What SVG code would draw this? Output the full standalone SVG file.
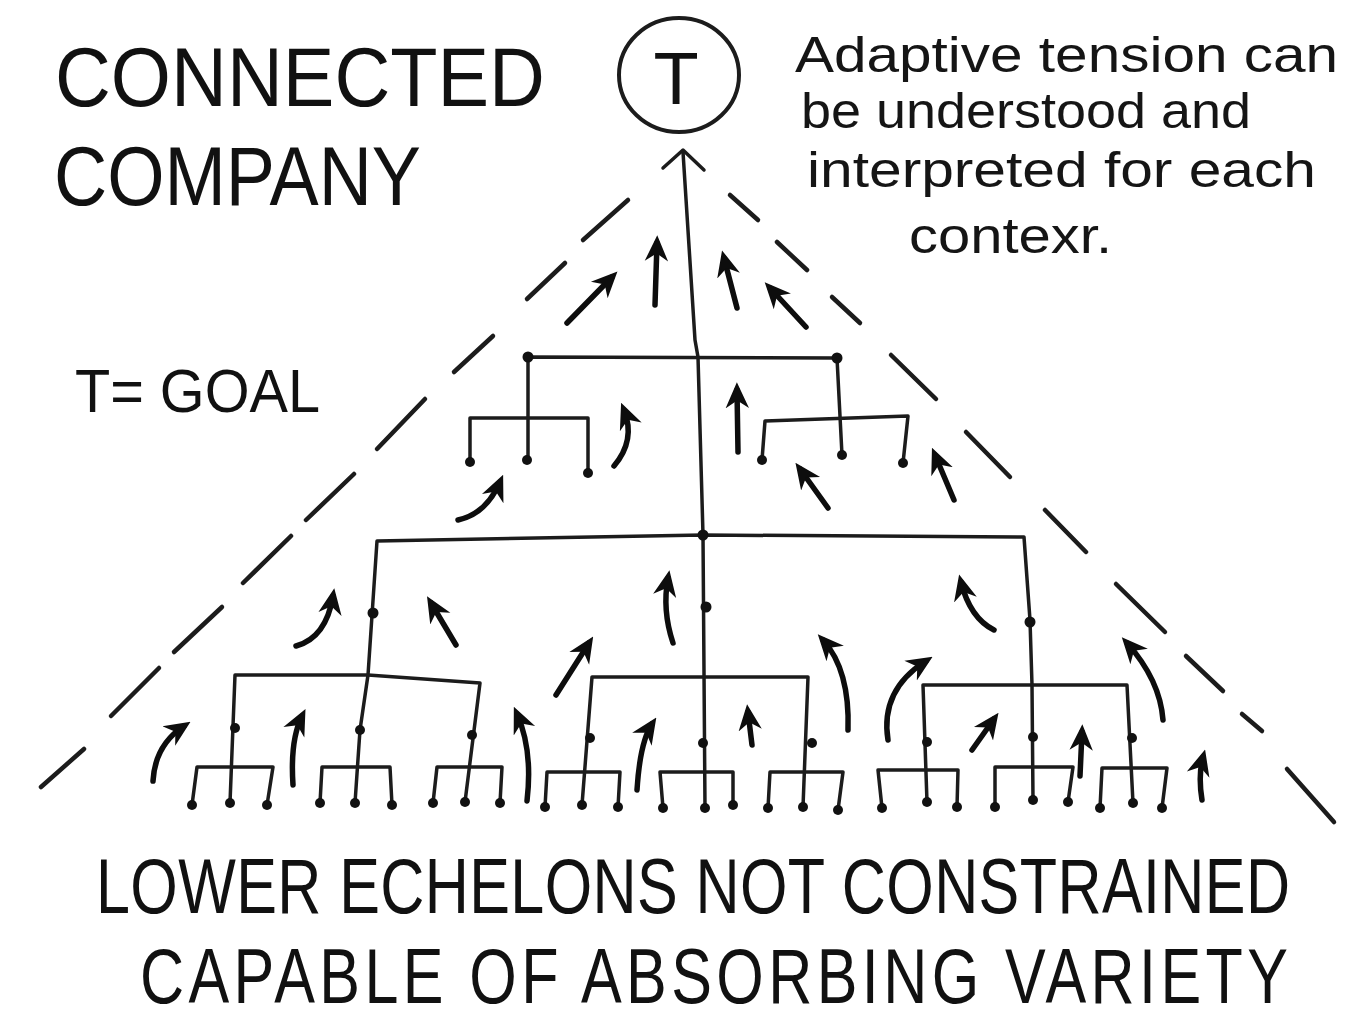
<svg xmlns="http://www.w3.org/2000/svg" width="1347" height="1028" viewBox="0 0 1347 1028">
<defs>
<style>
.cap{font-family:"Liberation Sans",Arial,sans-serif;fill:#111;}
.hand{font-family:"Liberation Sans",Arial,sans-serif;fill:#151515;}
.ln{fill:none;stroke:#1c1c1c;stroke-width:3.5;stroke-linecap:round;stroke-linejoin:round;}
.dash{fill:none;stroke:#1c1c1c;stroke-width:4.5;stroke-linecap:round;}
.arr{fill:none;stroke:#0d0d0d;stroke-width:5.5;stroke-linecap:round;marker-end:url(#ah);}
.dot{fill:#111;}
</style>
<marker id="ah" viewBox="0 0 10 10" refX="7" refY="5" markerUnits="userSpaceOnUse" markerWidth="26" markerHeight="26" orient="auto">
<path d="M0,0.5 L10,5 L0,9.5 L3,5 Z" fill="#0d0d0d"/>
</marker>
</defs>
<rect width="1347" height="1028" fill="#ffffff"/>

<g id="title">
<text class="cap" x="55" y="106" font-size="83" textLength="490" lengthAdjust="spacingAndGlyphs">CONNECTED</text>
<text class="cap" x="54" y="205" font-size="83" textLength="367" lengthAdjust="spacingAndGlyphs">COMPANY</text>
</g>

<g id="goal-node">
<ellipse cx="679" cy="75" rx="60" ry="57" fill="none" stroke="#1c1c1c" stroke-width="4"/>
<text class="cap" x="676" y="104" font-size="74" text-anchor="middle">T</text>
</g>

<g id="note">
<text class="hand" x="795" y="72" font-size="50" textLength="543" lengthAdjust="spacingAndGlyphs">Adaptive tension can</text>
<text class="hand" x="801" y="128" font-size="50" textLength="450" lengthAdjust="spacingAndGlyphs">be understood and</text>
<text class="hand" x="807" y="187" font-size="50" textLength="509" lengthAdjust="spacingAndGlyphs">interpreted for each</text>
<text class="hand" x="909" y="253" font-size="50" textLength="203" lengthAdjust="spacingAndGlyphs">contexr.</text>
</g>

<g id="legend">
<text class="cap" x="75" y="412" font-size="62" textLength="245" lengthAdjust="spacingAndGlyphs">T= GOAL</text>
</g>

<g id="boundary">
<line class="dash" x1="583" y1="240" x2="628" y2="200"/>
<line class="dash" x1="527" y1="299" x2="565" y2="263"/>
<line class="dash" x1="454" y1="372" x2="493" y2="336"/>
<line class="dash" x1="377" y1="449" x2="425" y2="399"/>
<line class="dash" x1="306" y1="520" x2="354" y2="474"/>
<line class="dash" x1="243" y1="583" x2="291" y2="536"/>
<line class="dash" x1="174" y1="652" x2="222" y2="607"/>
<line class="dash" x1="111" y1="716" x2="159" y2="668"/>
<line class="dash" x1="41" y1="787" x2="84" y2="749"/>
<line class="dash" x1="730" y1="195" x2="758" y2="220"/>
<line class="dash" x1="777" y1="242" x2="807" y2="270"/>
<line class="dash" x1="832" y1="297" x2="860" y2="323"/>
<line class="dash" x1="891" y1="355" x2="936" y2="399"/>
<line class="dash" x1="966" y1="432" x2="1010" y2="477"/>
<line class="dash" x1="1045" y1="510" x2="1086" y2="552"/>
<line class="dash" x1="1116" y1="584" x2="1165" y2="632"/>
<line class="dash" x1="1186" y1="656" x2="1223" y2="691"/>
<line class="dash" x1="1242" y1="714" x2="1262" y2="731"/>
<line class="dash" x1="1287" y1="769" x2="1334" y2="822"/>
</g>

<g id="tree">
<path class="ln" d="M683,152 L695,340 L698,357 L703,535 L705,808"/>
<path class="ln" d="M663,168 L683,150 L704,170" stroke-width="4.5"/>
<path class="ln" d="M528,460 L528,357 L837,358 L842,455"/>
<path class="ln" d="M470,462 L470,418 L588,418 L588,473"/>
<path class="ln" d="M762,460 L765,421 L908,416 L903,463"/>
<path class="ln" d="M355,803 L360,730 L368,675 L377,541 L703,535 L1024,537 L1030,620 L1032,685 L1033,800"/>
<path class="ln" d="M230,803 L235,675 L368,675 L480,683 L465,802"/>
<path class="ln" d="M192,805 L197,767 L273,767 L267,805"/>
<path class="ln" d="M320,803 L322,767 L390,767 L392,805"/>
<path class="ln" d="M433,803 L437,767 L502,767 L500,803"/>
<path class="ln" d="M582,805 L592,677 L808,677 L803,807"/>
<path class="ln" d="M545,807 L547,772 L620,772 L618,807"/>
<path class="ln" d="M663,808 L660,772 L733,772 L733,805"/>
<path class="ln" d="M768,808 L770,772 L843,772 L838,810"/>
<path class="ln" d="M927,802 L923,685 L1127,685 L1133,803"/>
<path class="ln" d="M882,808 L878,770 L958,770 L957,807"/>
<path class="ln" d="M995,807 L995,767 L1073,767 L1068,802"/>
<path class="ln" d="M1100,808 L1102,768 L1167,768 L1162,808"/>
<g class="dot">
<circle cx="528" cy="357" r="5.5"/><circle cx="837" cy="358" r="5.5"/>
<circle cx="527" cy="460" r="5"/><circle cx="470" cy="462" r="5"/><circle cx="588" cy="473" r="5"/>
<circle cx="842" cy="455" r="5"/><circle cx="762" cy="460" r="5"/><circle cx="903" cy="463" r="5"/>
<circle cx="703" cy="535" r="5.5"/><circle cx="706" cy="607" r="5.5"/><circle cx="373" cy="613" r="5.5"/><circle cx="1030" cy="622" r="5.5"/>
<circle cx="235" cy="728" r="5"/><circle cx="360" cy="730" r="5"/><circle cx="472" cy="735" r="5"/>
<circle cx="590" cy="738" r="5"/><circle cx="703" cy="743" r="5"/><circle cx="812" cy="743" r="5"/>
<circle cx="927" cy="742" r="5"/><circle cx="1033" cy="737" r="5"/><circle cx="1132" cy="738" r="5"/>
<circle cx="192" cy="805" r="5"/><circle cx="230" cy="803" r="5"/><circle cx="267" cy="805" r="5"/>
<circle cx="320" cy="803" r="5"/><circle cx="355" cy="803" r="5"/><circle cx="392" cy="805" r="5"/>
<circle cx="433" cy="803" r="5"/><circle cx="465" cy="802" r="5"/><circle cx="500" cy="803" r="5"/>
<circle cx="545" cy="807" r="5"/><circle cx="582" cy="805" r="5"/><circle cx="618" cy="807" r="5"/>
<circle cx="663" cy="808" r="5"/><circle cx="705" cy="808" r="5"/><circle cx="733" cy="805" r="5"/>
<circle cx="768" cy="808" r="5"/><circle cx="803" cy="807" r="5"/><circle cx="838" cy="810" r="5"/>
<circle cx="882" cy="808" r="5"/><circle cx="927" cy="802" r="5"/><circle cx="957" cy="807" r="5"/>
<circle cx="995" cy="807" r="5"/><circle cx="1033" cy="800" r="5"/><circle cx="1068" cy="802" r="5"/>
<circle cx="1100" cy="808" r="5"/><circle cx="1133" cy="803" r="5"/><circle cx="1162" cy="808" r="5"/>
</g>
</g>

<g id="connectors">
<path class="arr" d="M567,323 L612,277"/>
<path class="arr" d="M655,305 L657,243"/>
<path class="arr" d="M737,308 L724,258"/>
<path class="arr" d="M806,327 L770,288"/>
<path class="arr" d="M614,466 Q636,440 624,410"/>
<path class="arr" d="M458,520 Q486,514 500,482"/>
<path class="arr" d="M738,452 L737,390"/>
<path class="arr" d="M828,508 L800,469"/>
<path class="arr" d="M954,500 L935,455"/>
<path class="arr" d="M296,646 Q326,638 333,596"/>
<path class="arr" d="M456,645 L431,603"/>
<path class="arr" d="M673,643 Q662,610 668,578"/>
<path class="arr" d="M994,630 Q970,618 961,582"/>
<path class="arr" d="M153,781 Q155,745 184,726"/>
<path class="arr" d="M293,785 Q290,740 302,716"/>
<path class="arr" d="M527,801 Q533,750 517,714"/>
<path class="arr" d="M556,695 L589,643"/>
<path class="arr" d="M637,790 Q640,742 652,724"/>
<path class="arr" d="M752,745 L748,712"/>
<path class="arr" d="M848,730 Q850,670 823,640"/>
<path class="arr" d="M888,740 Q880,690 926,661"/>
<path class="arr" d="M972,750 L994,719"/>
<path class="arr" d="M1080,776 L1082,732"/>
<path class="arr" d="M1163,720 Q1160,680 1127,643"/>
<path class="arr" d="M1202,800 Q1198,775 1203,757"/>
</g>

<g id="caption">
<text class="cap" font-size="61" transform="translate(96,913) scale(1,1.28)" textLength="1194" lengthAdjust="spacing">LOWER ECHELONS NOT CONSTRAINED</text>
<text class="cap" font-size="61" transform="translate(140,1003) scale(1,1.28)" textLength="1148" lengthAdjust="spacing">CAPABLE OF ABSORBING VARIETY</text>
</g>
</svg>
